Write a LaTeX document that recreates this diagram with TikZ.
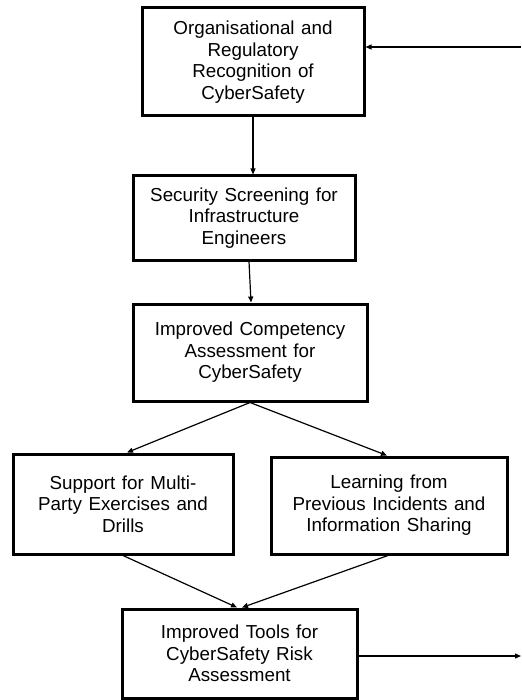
\documentclass[tikz,border=0pt]{standalone}
\usepackage{fontspec}
\setmainfont[WordSpace=1.25]{Liberation Sans}
\usetikzlibrary{arrows.meta,calc}
\begin{document}
\begin{tikzpicture}[x=1pt,y=-1pt,
  stepbox/.style={draw=black,line width=3pt,fill=white,align=center,inner sep=0pt,
    font=\fontsize{18.8}{21.5}\selectfont},
  conn/.style={line width=1.2pt,-{Triangle[length=6pt,width=5pt]}}]
\useasboundingbox (0,0) rectangle (521,700);
\node[stepbox,minimum width=222pt,minimum height=108pt] (b1) at (253,62)
  {Organisational and\\Regulatory\\Recognition of\\CyberSafety};
\node[stepbox,minimum width=222pt,minimum height=84pt] (b2) at (244,218)
  {Security Screening for\\Infrastructure\\Engineers};
\node[stepbox,minimum width=234pt,minimum height=97pt] (b3) at (250,352.5)
  {Improved Competency\\Assessment for\\CyberSafety};
\node[stepbox,minimum width=220pt,minimum height=100pt] (b4) at (123,504)
  {Support for Multi-\\Party Exercises and\\Drills};
\node[stepbox,minimum width=236pt,minimum height=97pt] (b5) at (389,505.5)
  {Learning from\\Previous Incidents and\\Information Sharing};
\node[stepbox,minimum width=235pt,minimum height=89pt] (b6) at (239.5,653.5)
  {Improved Tools for\\CyberSafety Risk\\Assessment};
\coordinate (inR) at (521,47);
\coordinate (outR) at (521,656);
\draw[conn] (inR) -- (inR -| b1.east);
\draw[conn] ([xshift=0pt]b1.south) -- (b1.south |- b2.north);
\draw[conn] ([xshift=5pt]b2.south) -- ([xshift=1pt]b3.north);
\draw[conn] (b3.south) -- ([xshift=4pt]b4.north);
\draw[conn] (b3.south) -- ([xshift=-2pt]b5.north);
\draw[conn] (b4.south) -- ([xshift=-2.5pt]b6.north);
\draw[conn] ([xshift=-1pt]b5.south) -- ([xshift=2.5pt]b6.north);
\draw[conn] (b6.east |- outR) -- (outR);
\end{tikzpicture}
\end{document}
